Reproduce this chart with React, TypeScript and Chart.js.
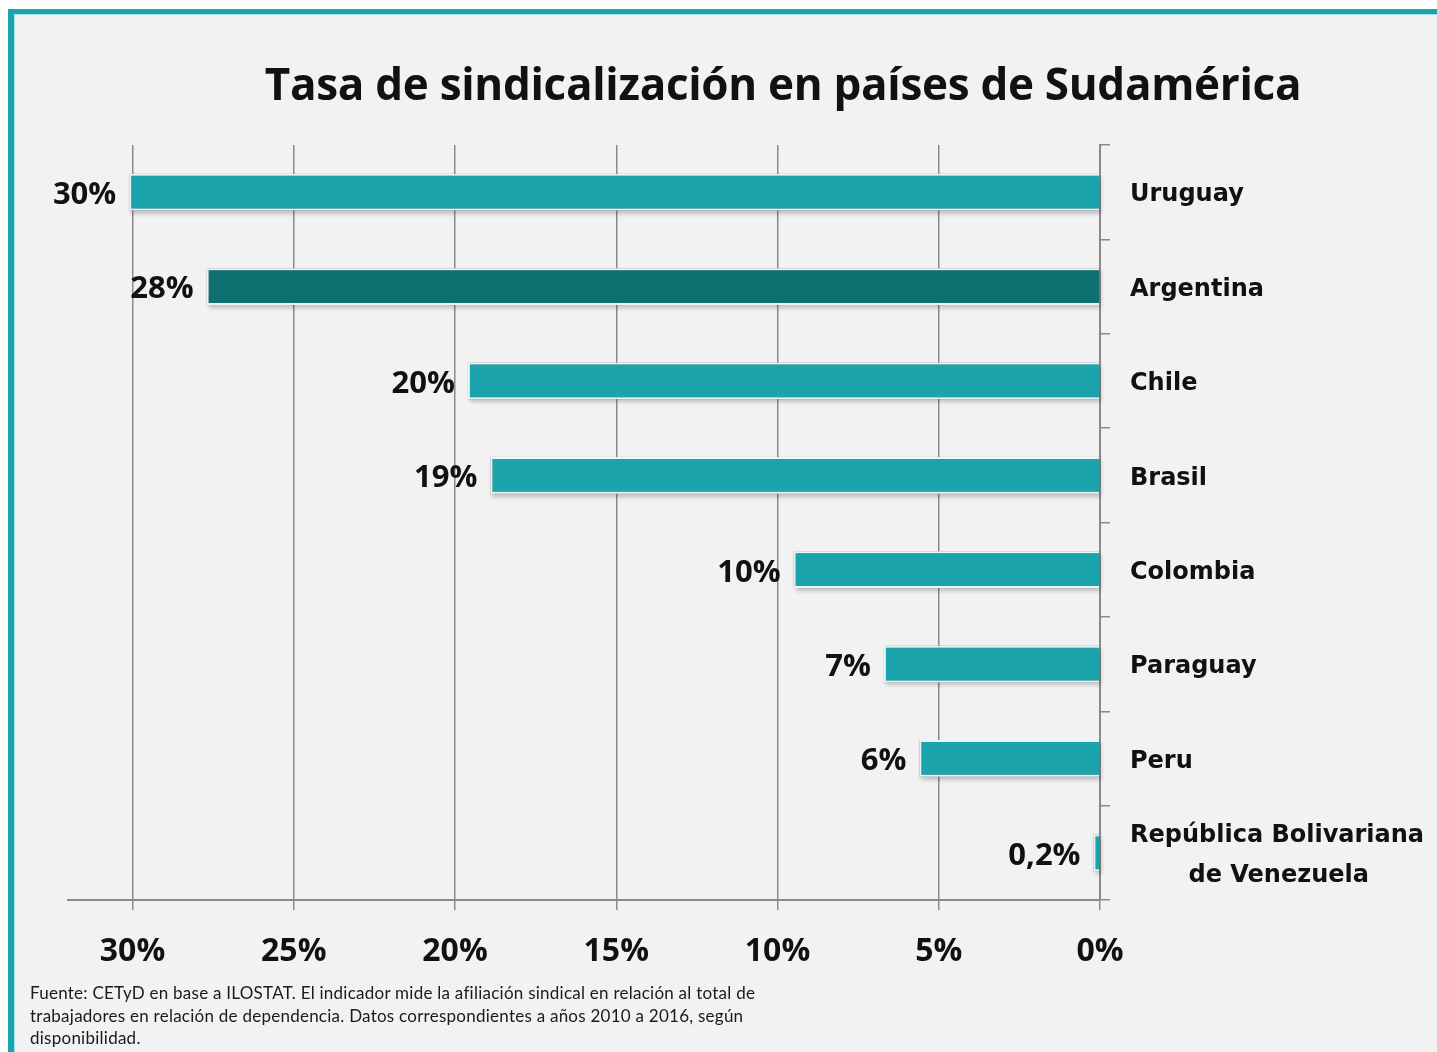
import React, { useEffect, useRef } from "react";
import { Chart, registerables } from "chart.js";

Chart.register(...registerables);

const categories: (string | string[])[] = [
  "Uruguay",
  "Argentina",
  "Chile",
  "Brasil",
  "Colombia",
  "Paraguay",
  "Peru",
  ["República Bolivariana", "       de Venezuela"],
];
const values = [30.1, 27.7, 19.6, 18.9, 9.5, 6.7, 5.6, 0.2];
const valueLabels = ["30%", "28%", "20%", "19%", "10%", "7%", "6%", "0,2%"];
const barColors = [
  "#1ba4ac",
  "#0f7071",
  "#1ba4ac",
  "#1ba4ac",
  "#1ba4ac",
  "#1ba4ac",
  "#1ba4ac",
  "#1ba4ac",
];
const titleText = "Tasa de sindicalización en países de Sudamérica";
const sourceLines = [
  "Fuente: CETyD en base a ILOSTAT. El indicador mide la afiliación sindical en relación al total de",
  "trabajadores en relación de dependencia. Datos correspondientes a años 2010 a 2016, según",
  "disponibilidad.",
];

const shadowPlugin = {
  id: "barShadow",
  beforeDatasetsDraw(chart: any) {
    const ctx = chart.ctx;
    const meta = chart.getDatasetMeta(0);
    ctx.save();
    ctx.shadowColor = "rgba(0,0,0,0.35)";
    ctx.shadowBlur = 4;
    ctx.shadowOffsetX = 2;
    ctx.shadowOffsetY = 3;
    ctx.fillStyle = "rgba(120,120,120,0.6)";
    meta.data.forEach((el: any) => {
      const p = el.getProps(["x", "y", "base", "height"], true);
      const left = Math.min(p.x, p.base);
      const w = Math.abs(p.base - p.x);
      ctx.fillRect(left, p.y - p.height / 2, w, p.height);
    });
    ctx.restore();
  },
};

const valueLabelPlugin = {
  id: "valueLabels",
  afterDatasetsDraw(chart: any) {
    const ctx = chart.ctx;
    const meta = chart.getDatasetMeta(0);
    ctx.save();
    ctx.font = "bold 31px 'Open Sans'";
    ctx.fillStyle = "#111111";
    ctx.textAlign = "right";
    ctx.textBaseline = "middle";
    meta.data.forEach((el: any, i: number) => {
      const p = el.getProps(["x", "y"], true);
      ctx.fillText(valueLabels[i], p.x - 13, p.y + 3);
    });
    ctx.restore();
  },
};

export default function App() {
  const canvasRef = useRef<HTMLCanvasElement | null>(null);

  useEffect(() => {
    if (!canvasRef.current) return;
    const chart = new Chart(canvasRef.current, {
      type: "bar",
      data: {
        labels: categories,
        datasets: [
          {
            data: values,
            backgroundColor: barColors,
            borderColor: "rgba(240,250,250,0.95)",
            borderWidth: 2,
            categoryPercentage: 1,
            barPercentage: 0.39,
          },
        ],
      },
      options: {
        indexAxis: "y",
        animation: false,
        responsive: false,
        layout: { padding: { left: 54, top: 131, right: 0, bottom: 82 } },
        plugins: {
          legend: { display: false },
          tooltip: { enabled: false },
          title: { display: false },
        },
        scales: {
          x: {
            reverse: true,
            min: 0,
            max: 32,
            ticks: {
              stepSize: 5,
              includeBounds: false,
              padding: 23,
              maxRotation: 0,
              color: "#111111",
              font: { family: "'Open Sans'", weight: "bold", size: 32 },
              callback: (v: any) => v + "%",
            },
            grid: { color: "#8a8a8a", lineWidth: 1.5, tickLength: 10 },
            border: { display: true, color: "#8a8a8a", width: 2 },
            afterFit(s: any) {
              s.height = 70;
            },
          },
          y: {
            position: "right",
            grid: {
              offset: true,
              drawOnChartArea: false,
              drawTicks: true,
              tickLength: 10,
              color: "#8a8a8a",
              lineWidth: 1.5,
            },
            border: { display: true, color: "#8a8a8a", width: 2 },
            ticks: {
              padding: 20,
              autoSkip: false,
              labelOffset: 3,
              color: "#111111",
              font: { family: "'DejaVu Sans'", weight: "bold", size: 24, lineHeight: 1.65 },
            },
            afterFit(s: any) {
              s.width = 337;
            },
          },
        },
      },
      plugins: [shadowPlugin, valueLabelPlugin],
    });
    return () => chart.destroy();
  }, []);

  return (
    <div
      style={{
        position: "fixed",
        left: 8,
        top: 9,
        right: 0,
        bottom: 0,
        boxSizing: "border-box",
        borderLeft: "6px solid #1ba4ac",
        borderTop: "5px solid #1ba4ac",
        boxShadow: "inset 1px 1px 0 #a6e2e7",
        background: "#f2f2f2",
        overflow: "hidden",
      }}
    >
      <canvas
        ref={canvasRef}
        width={1423}
        height={1038}
        style={{ position: "absolute", left: 0, top: 0, width: 1423, height: 1038 }}
      />
      <div
        style={{
          position: "absolute",
          left: 119,
          top: 47,
          width: 1300,
          textAlign: "center",
          fontFamily: "'Open Sans', sans-serif",
          fontWeight: 700,
          fontSize: 44,
          letterSpacing: -0.3,
          lineHeight: 1,
          color: "#111111",
          whiteSpace: "nowrap",
        }}
      >
        {titleText}
      </div>
      <div
        style={{
          position: "absolute",
          left: 16,
          top: 968,
          fontFamily: "Lato, sans-serif",
          fontSize: 17,
          letterSpacing: 0.25,
          lineHeight: "22.5px",
          color: "#1a1a1a",
          whiteSpace: "nowrap",
        }}
      >
        {sourceLines.map((l, i) => (
          <div key={i}>{l}</div>
        ))}
      </div>
    </div>
  );
}
